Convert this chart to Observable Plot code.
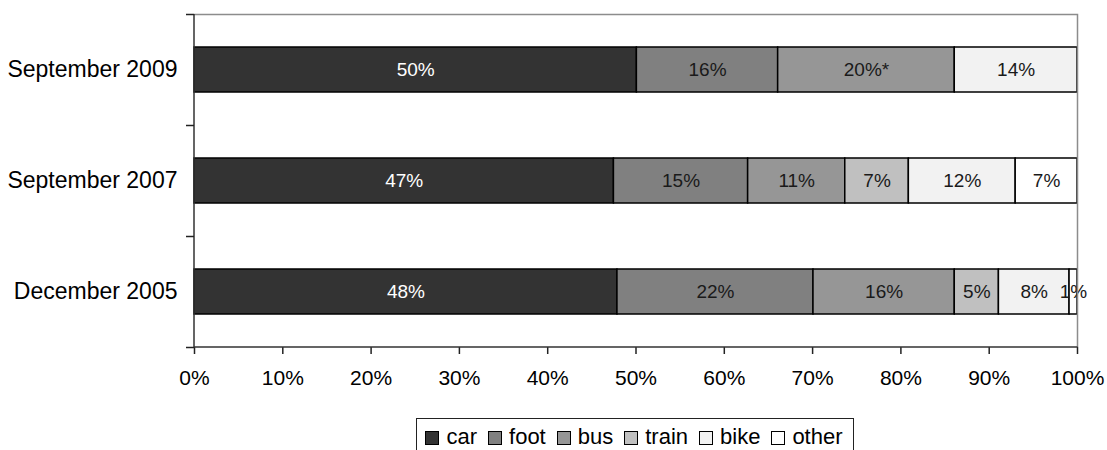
<!DOCTYPE html>
<html>
<head>
<meta charset="utf-8">
<script src="https://cdn.jsdelivr.net/npm/d3@7"></script>
<script src="https://cdn.jsdelivr.net/npm/@observablehq/plot@0.6"></script>
<style>
  html, body { margin: 0; padding: 0; background: #fff; }
  body { width: 1107px; height: 450px; overflow: hidden; font-family: "Liberation Sans", Arial, sans-serif; }
  #legend {
    position: absolute; left: 416px; top: 418px; width: 438px; height: 38px;
    border: 1px solid #222; box-sizing: border-box;
    display: flex; align-items: center; justify-content: center; gap: 11px;
    font-size: 22px; color: #000; padding-right: 2px;
  }
  #legend .item { display: flex; align-items: center; gap: 7px; }
  #legend .sw { width: 12px; height: 12px; border: 1px solid #000; margin-top: 1px; }
</style>
</head>
<body>
<div id="chart"></div>
<div id="legend"></div>
<script>
// ---- data ----
const categories = ["September 2009", "September 2007", "December 2005"];
const modes = ["car", "foot", "bus", "train", "bike", "other"];
const colors = ["#333333", "#808080", "#969696", "#c0c0c0", "#f2f2f2", "#ffffff"];
const values2009 = [50.1, 16.0, 20.0, 0, 13.9, 0];
const labels2009 = ["50%", "16%", "20%*", "", "14%", ""];
const values2007 = [47.5, 15.2, 11.0, 7.2, 12.1, 7.0];
const labels2007 = ["47%", "15%", "11%", "7%", "12%", "7%"];
const values2005 = [47.9, 22.2, 16.0, 5.0, 8.0, 0.9];
const labels2005 = ["48%", "22%", "16%", "5%", "8%", "1%"];
const xTicks = [0, 10, 20, 30, 40, 50, 60, 70, 80, 90, 100];

const series = [
  [categories[0], values2009, labels2009],
  [categories[1], values2007, labels2007],
  [categories[2], values2005, labels2005]
];
const rows = [];
for (const [cat, vals, labs] of series) {
  modes.forEach((m, i) => {
    if (vals[i] > 0) rows.push({cat, mode: m, value: vals[i], label: labs[i]});
  });
}

function frameMark(index, scales, values, dims) {
  const {width, height, marginLeft, marginRight, marginTop, marginBottom} = dims;
  const x0 = marginLeft, x1 = width - marginRight, y0 = marginTop, y1 = height - marginBottom;
  const g = d3.create("svg:g");
  g.append("path").attr("d", `M${x0},${y0 + 0.5}H${x1 + 0.5}V${y1}`)
    .attr("fill", "none").attr("stroke", "#8c8c8c").attr("stroke-width", 1.5);
  g.append("path").attr("d", `M${x0},${y0}V${y1}H${x1 + 0.5}`)
    .attr("fill", "none").attr("stroke", "#333").attr("stroke-width", 1.5);
  const n = categories.length;
  for (let i = 0; i <= n; i++) {
    const y = Math.round(y0 + (y1 - y0) * i / n) + 0.5;
    g.append("line").attr("x1", x0 - 8).attr("x2", x0).attr("y1", y).attr("y2", y)
      .attr("stroke", "#222").attr("stroke-width", 1.5);
  }
  return g.node();
}

const chart = Plot.plot({
  width: 1107,
  height: 405,
  marginLeft: 194,
  marginRight: 30,
  marginTop: 14,
  marginBottom: 58,
  style: {fontFamily: "'Liberation Sans', Arial, sans-serif", fontSize: "20px", color: "#000", background: "#fff"},
  x: {domain: [0, 100], label: null, axis: null},
  y: {domain: categories, paddingInner: 0.595, paddingOuter: 0.2975, label: null, axis: null},
  color: {domain: modes, range: colors},
  marks: [
    Plot.barX(rows, Plot.stackX({x: "value", y: "cat", z: "mode", fill: "mode", stroke: "#000", strokeWidth: 1.5})),
    Plot.text(rows, Plot.stackX({
      x: "value", y: "cat", z: "mode", text: "label",
      fill: d => d.mode === "car" ? "#fff" : "#1a1a1a",
      fontSize: 19
    })),
    Plot.axisX({ticks: xTicks, tickFormat: d => d + "%", tickSize: 7, tickPadding: 16, fontSize: 21, stroke: "#222", strokeWidth: 1.5, label: null}),
    Plot.axisY({tickSize: 0, tickPadding: 17, fontSize: 23, label: null}),
    frameMark
  ]
});
document.getElementById("chart").appendChild(chart);

const legend = document.getElementById("legend");
modes.forEach((m, i) => {
  const item = document.createElement("div");
  item.className = "item";
  const sw = document.createElement("div");
  sw.className = "sw";
  sw.style.background = colors[i];
  const t = document.createElement("span");
  t.textContent = m;
  item.appendChild(sw);
  item.appendChild(t);
  legend.appendChild(item);
});
</script>
</body>
</html>
